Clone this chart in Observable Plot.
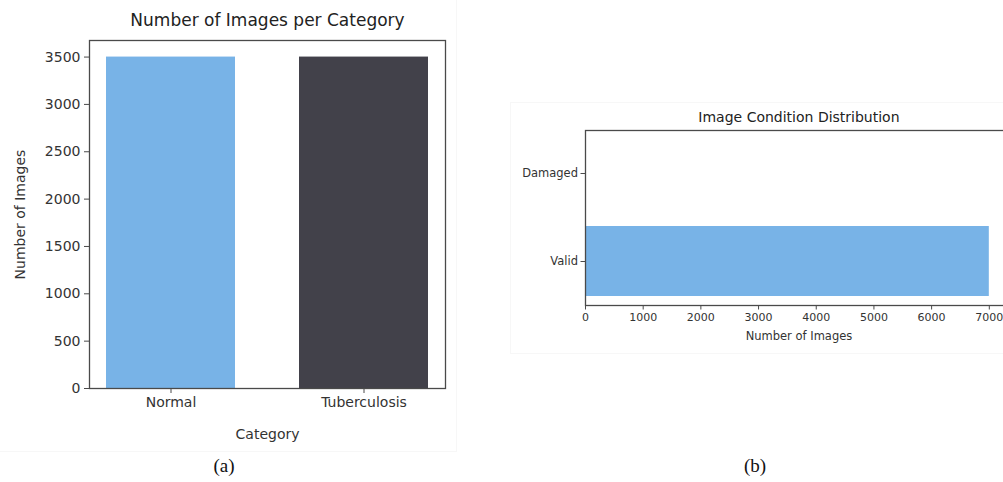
<!DOCTYPE html>
<html>
<head>
<meta charset="utf-8">
<script src="https://cdn.jsdelivr.net/npm/d3@7"></script>
<script src="https://cdn.jsdelivr.net/npm/@observablehq/plot@0.6"></script>
<style>
  html, body { margin: 0; padding: 0; background: #fff; overflow: hidden; }
  #page { position: relative; width: 1003px; height: 482px; overflow: hidden; font-family: "DejaVu Sans", sans-serif; color: #333; }
  .panel { position: absolute; }
  .panel svg { max-width: none !important; }
  .cap { position: absolute; font-family: "Liberation Serif", "Times New Roman", serif; font-size: 19px; color: #111; transform: translateX(-50%); }
  .bg { position: absolute; border: 1px solid #f7f7f7; background: #fff; }
</style>
</head>
<body>
<div id="page">
  <div class="bg" style="left:-1px; top:-1px; width:456px; height:451px;"></div>
  <div class="bg" style="left:510px; top:102px; width:500px; height:250px;"></div>
  <div id="a" class="panel" style="left:0; top:0; width:460px;"></div>
  <div id="b" class="panel" style="left:500px; top:90px; width:520px;"></div>
  <div class="cap" style="left:224px; top:455px;">(a)</div>
  <div class="cap" style="left:755px; top:455px;">(b)</div>
</div>
<script>
// Chart (a): Number of Images per Category
const categories = ["Normal", "Tuberculosis"];
const categoryCounts = [3500, 3500];
const categoryColors = ["#78b3e7", "#42414a"];
const yTicksA = [0, 500, 1000, 1500, 2000, 2500, 3000, 3500];

// Chart (b): Image Condition Distribution
const conditions = ["Damaged", "Valid"];
const conditionCounts = [0, 7000];
const xTicksB = [0, 1000, 2000, 3000, 4000, 5000, 6000, 7000];

const dataA = categories.map((c, i) => ({category: c, count: categoryCounts[i], color: categoryColors[i]}));
const dataB = conditions.map((c, i) => ({condition: c, count: conditionCounts[i]}));

const frameColor = "#4a4a4a";

const plotA = Plot.plot({
  width: 460,
  height: 450,
  marginLeft: 89,
  marginRight: 15,
  marginTop: 40,
  marginBottom: 62,
  style: {fontFamily: "DejaVu Sans", color: "#333", background: "transparent", maxWidth: "none"},
  x: {domain: categories, paddingInner: 0.33, paddingOuter: 0.0835},
  y: {domain: [0, 3675]},
  marks: [
    Plot.barY(dataA, {x: "category", y: "count", fill: "color"}),
    Plot.frame({stroke: frameColor, strokeWidth: 1.3}),
    Plot.axisX({tickSize: 5, tickPadding: 4, fontSize: 14, label: null, stroke: frameColor}),
    Plot.axisY({ticks: yTicksA, tickFormat: "d", tickSize: 5, tickPadding: 4, fontSize: 14, label: null, stroke: frameColor}),
    Plot.text(["Number of Images per Category"], {frameAnchor: "top", lineAnchor: "middle", dy: -20, fontSize: 17, fill: "#222"}),
    Plot.text(["Category"], {frameAnchor: "bottom", lineAnchor: "middle", dy: 46, fontSize: 14, fill: "#333"}),
    Plot.text(["Number of Images"], {frameAnchor: "left", textAnchor: "middle", lineAnchor: "middle", dx: -69, rotate: -90, fontSize: 14, fill: "#333"})
  ]
});
document.getElementById("a").appendChild(plotA);

const plotB = Plot.plot({
  width: 520,
  height: 270,
  marginLeft: 85,
  marginRight: 11,
  marginTop: 40,
  marginBottom: 55,
  style: {fontFamily: "DejaVu Sans", color: "#333", background: "transparent", overflow: "visible", maxWidth: "none"},
  x: {domain: [0, 7350]},
  y: {domain: conditions, paddingInner: 0.2, paddingOuter: 0.09},
  marks: [
    Plot.barX(dataB, {y: "condition", x: "count", fill: "#78b3e7"}),
    Plot.frame({stroke: frameColor, strokeWidth: 1.3}),
    Plot.axisX({ticks: xTicksB, tickFormat: "d", tickSize: 4.5, tickPadding: 3, fontSize: 11, label: null, stroke: frameColor}),
    Plot.axisY({tickSize: 4.5, tickPadding: 3, fontSize: 11.5, label: null, stroke: frameColor}),
    Plot.text(["Image Condition Distribution"], {x: 3700, frameAnchor: "top", lineAnchor: "middle", dy: -13, fontSize: 14, fill: "#222"}),
    Plot.text(["Number of Images"], {x: 3700, frameAnchor: "bottom", lineAnchor: "middle", dy: 31, fontSize: 11.5, fill: "#333"})
  ]
});
document.getElementById("b").appendChild(plotB);
</script>
</body>
</html>
